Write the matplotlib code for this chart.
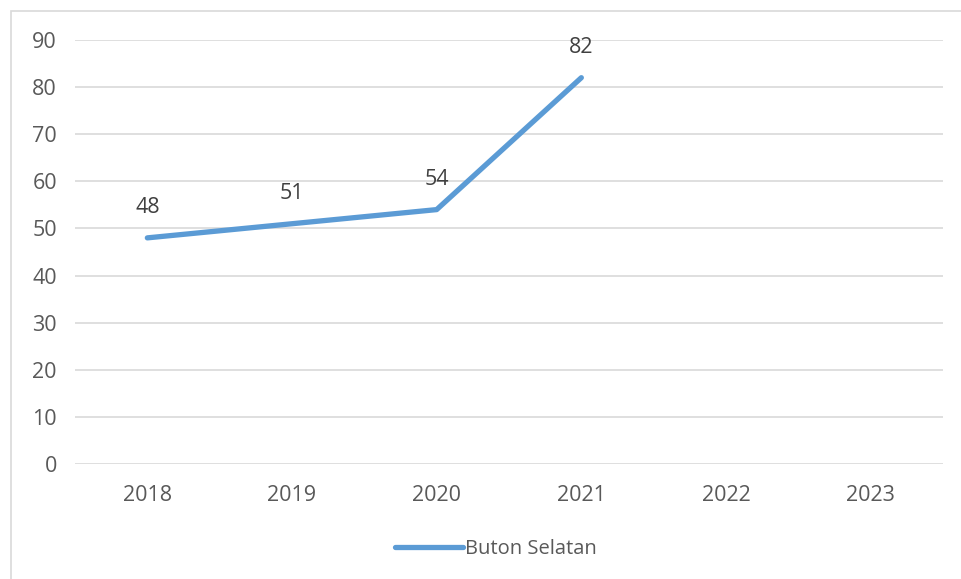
import matplotlib.pyplot as plt
from matplotlib.patches import Rectangle

years = ["2018", "2019", "2020", "2021", "2022", "2023"]
values = [48, 51, 54, 82]
series_name = "Buton Selatan"

plt.rcParams['font.family'] = ['Open Sans', 'DejaVu Sans']
text_color = "#595959"
line_color = "#5B9BD5"
fs = 15.5

fig = plt.figure(figsize=(9.61, 5.79), dpi=100)
ax = fig.add_axes([75/961, 1 - 464/579, (943 - 75)/961, (464 - 40)/579])

# frame around the chart, cut by the image edges on the right and bottom
fig.patches.append(Rectangle((11/961, -0.05), 1.0, 1 - 11/579 + 0.05,
                             transform=fig.transFigure, fill=False,
                             edgecolor="#D9D9D9", linewidth=1.2))

x = list(range(len(values)))
ax.plot(x, values, color=line_color, linewidth=3.8, solid_capstyle="round",
        solid_joinstyle="round", label=series_name)
for xi, v in zip(x, values):
    ax.annotate(str(v), (xi, v), xytext=(0, 22), textcoords="offset points",
                ha="center", va="center", fontsize=fs, color="#404040")

ax.set_xlim(-0.5, len(years) - 0.5)
ax.set_ylim(0, 90)
ax.set_xticks(range(len(years)))
ax.set_xticklabels(years)
ax.set_yticks(range(0, 91, 10))
ax.tick_params(axis="both", length=0, labelsize=fs, labelcolor=text_color)
ax.tick_params(axis="y", pad=13)
ax.tick_params(axis="x", pad=15)
ax.grid(axis="y", color="#D9D9D9", linewidth=1.2)
ax.set_axisbelow(True)
for s in ax.spines.values():
    s.set_visible(False)

fig.legend(loc="center", bbox_to_anchor=(496/961, 1 - 549/579), frameon=False,
           fontsize=14.5, labelcolor=text_color, handlelength=3.4, handletextpad=0.1)

fig.savefig("out.png", dpi=100)
